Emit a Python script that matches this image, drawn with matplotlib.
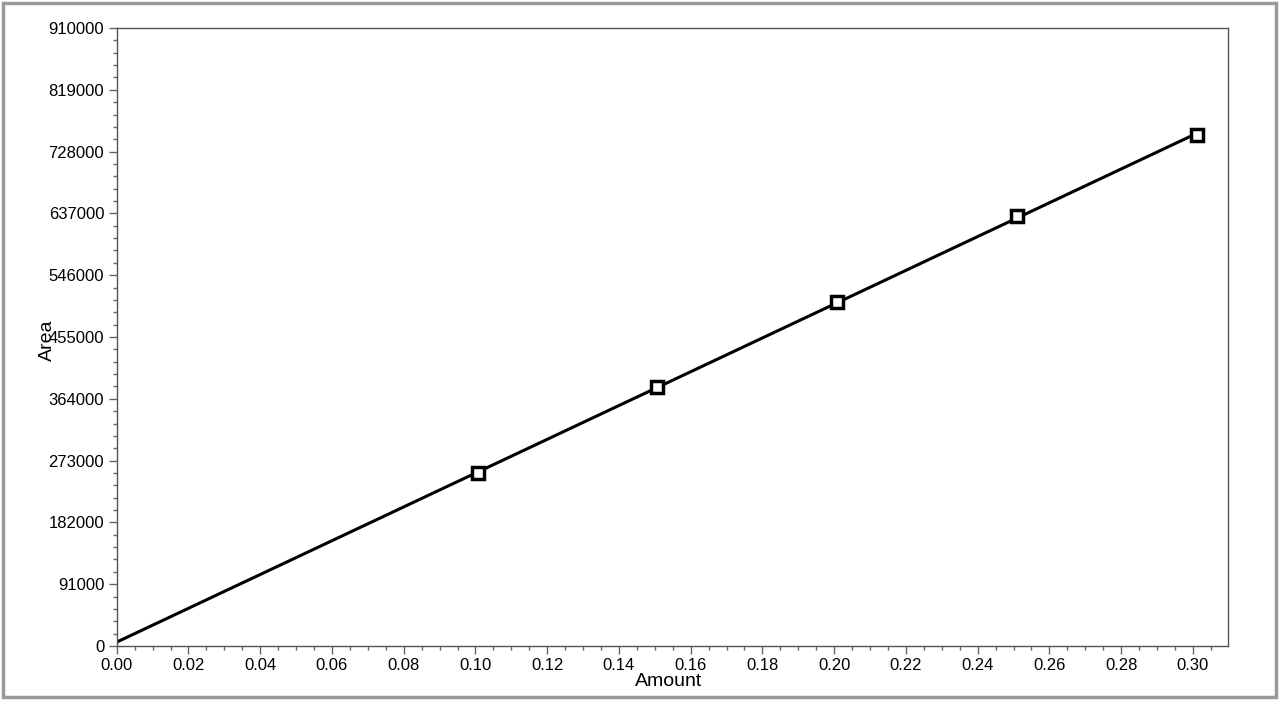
import numpy as np
import matplotlib.pyplot as plt
from matplotlib.patches import Rectangle
from matplotlib.ticker import MultipleLocator, FixedLocator

# calibration points
amount = [0.1006, 0.1507, 0.2009, 0.2511, 0.3011]
area = [254300, 381800, 506100, 633200, 752400]

y_ticks = [0, 91000, 182000, 273000, 364000, 455000, 546000, 637000, 728000, 819000, 910000]
x_ticks = [0.00, 0.02, 0.04, 0.06, 0.08, 0.10, 0.12, 0.14, 0.16, 0.18, 0.20,
           0.22, 0.24, 0.26, 0.28, 0.30]

plt.rcParams['font.family'] = ['Liberation Sans', 'DejaVu Sans']

fig = plt.figure(figsize=(12.8, 7.01), dpi=100)
ax = fig.add_axes([0.0912, 0.0785, 0.8682, 0.8815])

# linear fit through the points, drawn from 0 to the last point
k, b = np.polyfit(amount, area, 1)
xs = np.array([0.0, amount[-1]])
ax.plot(xs, k * xs + b, color='black', lw=2.2, zorder=2)
ax.plot(amount, area, ls='none', marker='s', ms=8, mfc='white', mec='black',
        mew=2.5, zorder=3)

ax.set_xlim(0, 0.3098)
ax.set_ylim(0, 910000)
ax.yaxis.set_major_locator(FixedLocator(y_ticks))
ax.yaxis.set_minor_locator(MultipleLocator(18200))
ax.xaxis.set_major_locator(FixedLocator(x_ticks))
ax.xaxis.set_minor_locator(MultipleLocator(0.005))
ax.set_yticklabels([str(v) for v in y_ticks])
ax.set_xticklabels([f'{v:.2f}' for v in x_ticks])

ax.tick_params(which='major', direction='out', length=6, width=1, color='#666666',
               labelsize=12, pad=3)
ax.tick_params(which='minor', direction='out', length=3, width=1, color='#666666')
for s in ax.spines.values():
    s.set_color('#555555')
    s.set_linewidth(1)

ax.set_xlabel('Amount', fontsize=14)
ax.set_ylabel('Area', fontsize=14)
ax.xaxis.set_label_coords(0.497, -0.044)
ax.yaxis.set_label_coords(-0.0545, 0.495)

# grey frame around the whole picture
fig.patches.append(Rectangle((0.002, 0.005), 0.995, 0.991, transform=fig.transFigure,
                             fill=False, edgecolor='#999999', lw=2.5))

fig.savefig('out.png', dpi=100)
